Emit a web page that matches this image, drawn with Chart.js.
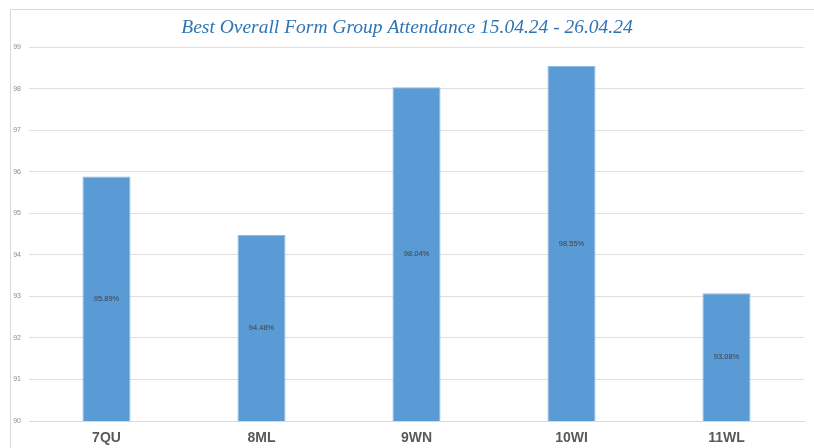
<!DOCTYPE html>
<html>
<head>
<meta charset="utf-8">
<script src="https://cdn.jsdelivr.net/npm/chart.js@4/dist/chart.umd.min.js"></script>
<style>
  html, body { margin: 0; padding: 0; background: #fff; }
  #wrap { position: relative; width: 814px; height: 448px; }
  #frame { position: absolute; left: 10px; top: 9px; width: 820px; height: 460px; border: 1px solid #d9d9d9; box-sizing: border-box; pointer-events: none; }
</style>
</head>
<body>
<div id="wrap">
  <canvas id="c" width="814" height="448"></canvas>
  <div id="frame"></div>
</div>
<script>
const categories = ['7QU', '8ML', '9WN', '10WI', '11WL'];
const attendance = [95.89, 94.48, 98.04, 98.55, 93.08];
const valueLabels = ['95.89%', '94.48%', '98.04%', '98.55%', '93.08%'];
const titleText = 'Best Overall Form Group Attendance 15.04.24 - 26.04.24';

const centerLabels = {
  id: 'centerLabels',
  afterDraw(chart) {
    const ctx = chart.ctx;
    const meta = chart.getDatasetMeta(0);
    const yScale = chart.scales.y;
    ctx.save();
    ctx.font = '7.5px "Liberation Sans", Arial, sans-serif';
    ctx.fillStyle = '#404040';
    ctx.textAlign = 'center';
    ctx.textBaseline = 'middle';
    meta.data.forEach((bar, i) => {
      const v = attendance[i];
      const y = (yScale.getPixelForValue(v) + yScale.getPixelForValue(yScale.min)) / 2;
      ctx.fillText(valueLabels[i], bar.x, y);
    });
    ctx.restore();
  }
};

new Chart(document.getElementById('c'), {
  type: 'bar',
  data: {
    labels: categories,
    datasets: [{
      data: attendance,
      backgroundColor: '#5b9bd5',
      borderColor: '#8fbbe3',
      borderWidth: 1,
      categoryPercentage: 1,
      barPercentage: 0.31
    }]
  },
  options: {
    responsive: false,
    animation: false,
    devicePixelRatio: 1,
    layout: { padding: { left: 10, right: 10, top: 0, bottom: 0 } },
    plugins: {
      legend: { display: false },
      tooltip: { enabled: false },
      title: {
        display: true,
        text: titleText,
        color: '#2e75b6',
        font: { family: '"Liberation Serif", "DejaVu Serif", serif', style: 'italic', size: 19.5, weight: 'normal' },
        padding: { top: 16, bottom: 8 }
      }
    },
    scales: {
      x: {
        grid: { display: false, drawTicks: false },
        border: { display: true, color: '#d9d9d9', width: 1 },
        ticks: {
          color: '#595959',
          font: { family: '"Liberation Sans", Arial, sans-serif', size: 14, weight: 'bold' },
          padding: 9
        },
        afterFit(scale) { scale.height = 27; }
      },
      y: {
        min: 90,
        max: 99,
        ticks: {
          stepSize: 1,
          color: '#8c8c8c',
          font: { family: '"Liberation Sans", Arial, sans-serif', size: 7 },
          padding: 8
        },
        grid: { color: '#e0e0e0', drawTicks: false },
        border: { display: false },
        afterFit(scale) { scale.width = 19; }
      }
    }
  },
  plugins: [centerLabels]
});
</script>
</body>
</html>
